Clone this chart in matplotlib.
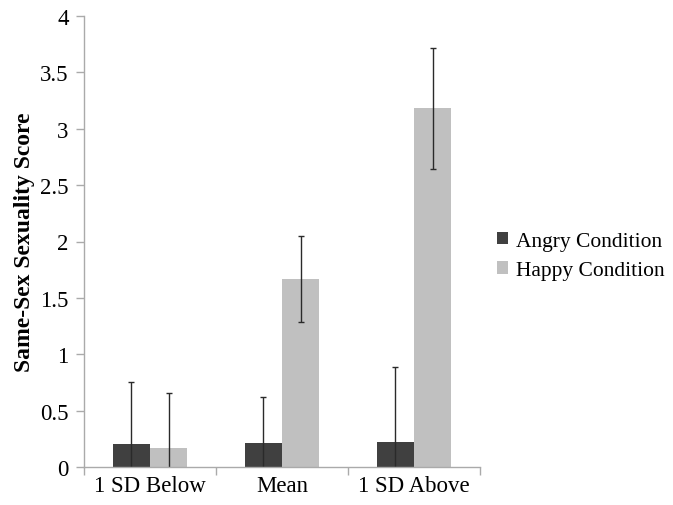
import matplotlib
matplotlib.use("Agg")
import matplotlib.pyplot as plt
import numpy as np

categories = ["1 SD Below", "Mean", "1 SD Above"]
series_names = ["Angry Condition", "Happy Condition"]
angry = [0.20, 0.21, 0.22]
happy = [0.17, 1.67, 3.18]
angry_err = [0.55, 0.41, 0.67]
happy_err = [0.49, 0.38, 0.54]
yticks = [0, 0.5, 1, 1.5, 2, 2.5, 3, 3.5, 4]
ytick_labels = ["0", "0.5", "1", "1.5", "2", "2.5", "3", "3.5", "4"]

FAM = ['Liberation Serif', 'DejaVu Serif']
plt.rcParams['font.family'] = FAM

fig = plt.figure(figsize=(6.73, 5.06), dpi=100)
ax = fig.add_axes([84/673, 38/506, (480-84)/673, (468-17)/506])

x = np.arange(len(categories))
w = 0.284
ek = dict(ecolor="#2a2a2a", elinewidth=1.0, capsize=2, capthick=1.0)
ax.bar(x - w/2, angry, w, color="#404040", label=series_names[0],
       yerr=angry_err, error_kw=ek)
ax.bar(x + w/2, happy, w, color="#c0c0c0", label=series_names[1],
       yerr=happy_err, error_kw=ek)

ax.set_xlim(-0.5, len(categories) - 0.5)
ax.set_ylim(0, 4)
ax.set_yticks(yticks)
ax.set_yticklabels(ytick_labels, fontsize=16.5, family=FAM)
ax.set_xticks(np.arange(len(categories) + 1) - 0.5)
ax.set_xticklabels([])
ax.set_xticks(x, minor=True)
ax.set_xticklabels(categories, minor=True, fontsize=16.5, family=FAM)
ax.tick_params(axis="x", which="minor", length=0, pad=6)
ax.tick_params(axis="x", which="major", length=6, color="#aaaaaa", width=1)
ax.tick_params(axis="y", length=6, color="#aaaaaa", width=1, pad=5)

for s in ["top", "right"]:
    ax.spines[s].set_visible(False)
for s in ["left", "bottom"]:
    ax.spines[s].set_color("#aaaaaa")
    ax.spines[s].set_linewidth(1)

ax.set_ylabel("Same-Sex Sexuality Score", fontsize=17, fontweight="bold",
              labelpad=4, family=FAM)

fig.legend(loc="center left", bbox_to_anchor=(488/673, 1 - 257/506),
           frameon=False, prop={'family': FAM, 'size': 15.5},
           handlelength=0.55, handleheight=0.55,
           handletextpad=0.35, labelspacing=0.5, borderaxespad=0)

fig.savefig("out.png", dpi=100)
